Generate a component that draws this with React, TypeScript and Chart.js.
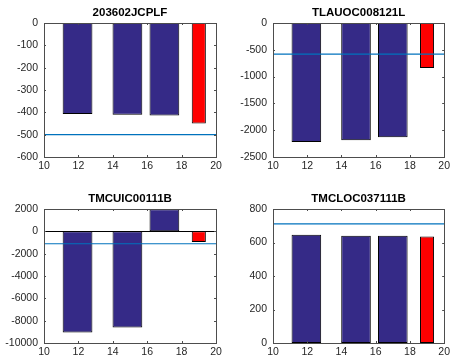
import React, { useEffect, useRef } from "react";
import { Chart, registerables } from "chart.js";

Chart.register(...registerables);

// ---- data ----
const titles = ["203602JCPLF", "TLAUOC008121L", "TMCUIC00111B", "TMCLOC037111B"];
const blueX = [11.95, 14.85, 17];
const redX = [19];
const blueValues1 = [-407, -411, -414];
const blueValues2 = [-2220, -2188, -2131];
const blueValues3 = [-9070, -8620, 1980];
const blueValues4 = [646, 640, 640];
const redValues = [-450, -840, -960, 636];
const refLine = [-500, -580, -1110, 711];
const yMin = [-600, -2500, -10000, 0];
const yMax = [0, 0, 2000, 800];
const yStep = [100, 500, 2000, 200];
const xMin = 10;
const xMax = 20;
const xStep = 2;
const blueAll = [blueValues1, blueValues2, blueValues3, blueValues4];

// ---- layout (page pixels) ----
const canvasRects = [
  { left: 0, top: 0, width: 226, height: 178 },
  { left: 226, top: 0, width: 227, height: 178 },
  { left: 0, top: 178, width: 226, height: 179 },
  { left: 226, top: 178, width: 227, height: 179 },
];
const plotRects = [
  { x0: 44, y0: 23, x1: 216, y1: 157 },
  { x0: 273, y0: 23, x1: 446, y1: 157 },
  { x0: 44, y0: 209, x1: 216, y1: 343 },
  { x0: 273, y0: 209, x1: 446, y1: 343 },
];

const FONT = "'Liberation Sans', Arial, Helvetica, sans-serif";
const AXIS_COLOR = "#4d4d4d";
const TEXT_COLOR = "#262626";

const framePlugin = {
  id: "matlabFrame",
  afterDatasetsDraw(chart: any) {
    const { ctx, chartArea } = chart;
    const xs = chart.scales.x;
    const ys = chart.scales.y;
    const { left, right, top, bottom } = chartArea;
    ctx.save();
    // baseline at 0
    if (ys.min < 0 && ys.max > 0) {
      const y0 = Math.round(ys.getPixelForValue(0)) + 0.5;
      ctx.strokeStyle = "#000";
      ctx.lineWidth = 1;
      ctx.beginPath();
      ctx.moveTo(left, y0);
      ctx.lineTo(right, y0);
      ctx.stroke();
    }
    ctx.strokeStyle = AXIS_COLOR;
    ctx.lineWidth = 1;
    ctx.strokeRect(Math.round(left) + 0.5, Math.round(top) + 0.5, Math.round(right - left), Math.round(bottom - top));
    const tl = 2;
    ctx.beginPath();
    xs.ticks.forEach((t: any) => {
      const px = Math.round(xs.getPixelForValue(t.value)) + 0.5;
      ctx.moveTo(px, bottom);
      ctx.lineTo(px, bottom - tl);
      ctx.moveTo(px, top);
      ctx.lineTo(px, top + tl);
    });
    ys.ticks.forEach((t: any) => {
      const py = Math.round(ys.getPixelForValue(t.value)) + 0.5;
      ctx.moveTo(left, py);
      ctx.lineTo(left + tl, py);
      ctx.moveTo(right, py);
      ctx.lineTo(right - tl, py);
    });
    ctx.stroke();
    // title
    const title = chart.options.plugins.matlabFrame.title;
    ctx.fillStyle = "#000";
    ctx.font = `bold 11.5px ${FONT}`;
    ctx.textAlign = "center";
    ctx.textBaseline = "middle";
    ctx.fillText(title, (left + right) / 2, top - 10);
    ctx.restore();
  },
};

function Panel({ idx }: { idx: number }) {
  const ref = useRef<HTMLCanvasElement | null>(null);
  useEffect(() => {
    const c = canvasRects[idx];
    const p = plotRects[idx];
    const yAxisWidth = p.x0 - c.left;
    const xAxisHeight = c.top + c.height - p.y1;
    const chart = new Chart(ref.current as HTMLCanvasElement, {
      type: "bar",
      data: {
        datasets: [
          {
            type: "line",
            data: [
              { x: xMin, y: refLine[idx] },
              { x: xMax, y: refLine[idx] },
            ],
            borderColor: "#0072BD",
            borderWidth: 1.2,
            pointRadius: 0,
            order: 0,
          } as any,
          {
            type: "bar",
            data: blueX.map((x, i) => ({ x, y: blueAll[idx][i] })),
            backgroundColor: "rgb(53,42,135)",
            borderColor: "#000",
            borderWidth: 1,
            borderSkipped: false,
            grouped: false,
            categoryPercentage: 1,
            barPercentage: 0.865,
            order: 1,
          } as any,
          {
            type: "bar",
            data: redX.map((x) => ({ x, y: redValues[idx] })),
            backgroundColor: "#ff0000",
            borderColor: "#000",
            borderWidth: 1,
            borderSkipped: false,
            grouped: false,
            categoryPercentage: 1,
            barPercentage: 0.41,
            order: 1,
          } as any,
        ],
      },
      options: {
        animation: false,
        responsive: false,
        devicePixelRatio: 1,
        layout: {
          padding: {
            top: p.y0 - c.top,
            right: c.left + c.width - p.x1,
            left: 0,
            bottom: 0,
          },
        },
        plugins: {
          legend: { display: false },
          tooltip: { enabled: false },
          matlabFrame: { title: titles[idx] },
        } as any,
        scales: {
          x: {
            type: "linear",
            min: xMin,
            max: xMax,
            offset: false,
            grid: { display: false, drawTicks: false, offset: false },
            border: { display: false },
            ticks: {
              stepSize: xStep,
              padding: 3,
              color: TEXT_COLOR,
              font: { family: FONT, size: 10.5 },
              maxRotation: 0,
              callback: (v: any) => String(v),
            },
            afterFit: (s: any) => {
              s.height = xAxisHeight;
            },
          },
          y: {
            type: "linear",
            min: yMin[idx],
            max: yMax[idx],
            grid: { display: false, drawTicks: false },
            border: { display: false },
            ticks: {
              stepSize: yStep[idx],
              padding: 6,
              color: TEXT_COLOR,
              font: { family: FONT, size: 10.5 },
              callback: (v: any) => String(v),
            },
            afterFit: (s: any) => {
              s.width = yAxisWidth;
            },
          },
        },
      } as any,
      plugins: [framePlugin],
    });
    return () => chart.destroy();
  }, [idx]);
  const c = canvasRects[idx];
  return (
    <canvas
      ref={ref}
      width={c.width}
      height={c.height}
      style={{ position: "absolute", left: c.left, top: c.top, width: c.width, height: c.height }}
    />
  );
}

export default function App() {
  return (
    <div style={{ position: "absolute", left: 0, top: 0, width: 453, height: 357, background: "#fff" }}>
      {[0, 1, 2, 3].map((i) => (
        <Panel key={i} idx={i} />
      ))}
    </div>
  );
}
